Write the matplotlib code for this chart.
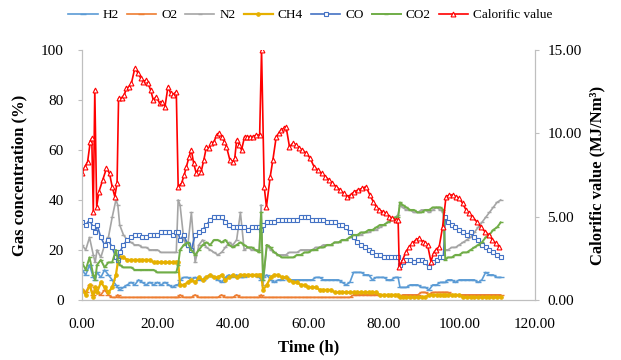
import matplotlib
matplotlib.use("Agg")
import matplotlib.pyplot as plt

plt.rcParams['font.family'] = ['Liberation Serif', 'DejaVu Serif']

# shared time axis for gas composition (h)
hours = [0, 1, 2, 3, 3.5, 4, 5, 6, 7, 8,
         9, 9.5, 10, 11, 12, 13, 14, 15, 16, 17,
         18, 19, 20, 21, 22, 23, 24, 25, 25.5, 26,
         27, 28, 29, 30, 31, 32, 33, 34, 35, 36,
         37, 38, 39, 40, 41, 42, 43, 44, 45, 46,
         47, 47.5, 48, 49, 50, 51, 52, 53, 54, 55,
         56, 57, 58, 59, 60, 61, 62, 63, 64, 65,
         66, 67, 68, 69, 70, 71, 72, 73, 74, 75,
         76, 77, 78, 79, 80, 81, 82, 83, 83.8, 84.3,
         85, 86, 87, 88, 89, 90, 91, 92, 93, 94,
         95, 95.8, 96.3, 97, 98, 99, 100, 101, 102, 103,
         104, 105, 106, 107, 108, 109, 110, 111]

h2 = [12, 10, 14, 9, 8, 11, 9, 12, 10, 8,
      6, 5, 4, 5, 6, 7, 6, 8, 7, 6,
      7, 6, 7, 6, 7, 6, 5, 6, 6, 8,
      9, 9, 8, 9, 8, 8, 9, 10, 9, 8,
      7, 9, 10, 9, 10, 9, 9, 10, 10, 10,
      9, 8, 9, 10, 8, 7, 8, 8, 9, 8,
      8, 8, 8, 8, 8, 8, 9, 9, 8, 8,
      8, 8, 8, 7, 6, 7, 11, 11, 11, 10,
      10, 8, 9, 9, 9, 8, 8, 9, 9, 5,
      5, 5, 6, 6, 6, 5, 5, 4, 6, 6,
      7, 7, 7, 8, 8, 7, 8, 8, 8, 8,
      8, 7, 8, 11, 10, 10, 9, 9]

o2 = [4, 3, 6, 2, 5, 3, 2, 4, 2, 1,
      1, 2, 1, 1, 1, 1, 1, 1, 1, 1,
      1, 1, 1, 1, 1, 1, 1, 1, 1, 2,
      1, 1, 1, 2, 1, 1, 1, 1, 1, 1,
      2, 1, 1, 1, 2, 1, 1, 1, 1, 1,
      1, 2, 1, 1, 1, 1, 1, 1, 1, 1,
      1, 1, 1, 1, 1, 1, 1, 1, 1, 1,
      1, 1, 1, 1, 1, 1, 2, 2, 2, 2,
      2, 2, 2, 2, 2, 2, 2, 2, 2, 1,
      2, 2, 2, 2, 2, 3, 3, 2, 3, 3,
      3, 3, 3, 3, 2, 2, 2, 2, 2, 2,
      2, 2, 2, 2, 2, 2, 2, 2]

n2 = [22, 20, 25, 18, 15, 20, 17, 22, 25, 33,
      40, 38, 30, 26, 24, 23, 22, 22, 21, 21,
      20, 20, 20, 19, 19, 19, 19, 19, 40, 38,
      24, 21, 35, 15, 22, 24, 21, 20, 19, 18,
      19, 21, 23, 22, 24, 35, 20, 21, 20, 20,
      20, 38, 6, 22, 20, 19, 18, 18, 18, 19,
      19, 19, 20, 20, 20, 20, 21, 21, 22, 22,
      22, 23, 23, 24, 24, 25, 25, 26, 26, 27,
      27, 28, 28, 29, 30, 31, 32, 33, 34, 38,
      37, 36, 36, 35, 35, 36, 36, 35, 36, 37,
      36, 35, 20, 20, 21, 21, 22, 23, 24, 25,
      27, 29, 31, 33, 35, 37, 39, 40]

ch4 = [4, 2, 6, 1, 5, 3, 7, 5, 3, 5,
       10, 15, 17, 17, 16, 16, 16, 16, 16, 16,
       16, 15, 15, 15, 15, 15, 15, 15, 15, 6,
       6, 7, 8, 7, 9, 8, 9, 10, 9, 9,
       10, 8, 9, 10, 9, 10, 10, 10, 10, 10,
       10, 10, 4, 6, 9, 10, 10, 9, 9, 8,
       7, 7, 6, 6, 5, 5, 5, 4, 4, 4,
       4, 3, 3, 3, 3, 3, 3, 3, 3, 3,
       3, 3, 3, 2, 2, 2, 2, 2, 2, 1,
       1, 1, 1, 1, 1, 1, 1, 2, 2, 2,
       2, 2, 2, 2, 2, 2, 2, 1, 1, 1,
       1, 1, 1, 1, 1, 1, 1, 1]

co = [31, 30, 32, 29, 27, 30, 25, 22, 24, 21,
      17, 16, 19, 22, 24, 25, 26, 26, 25, 25,
      26, 26, 26, 27, 27, 27, 26, 27, 27, 24,
      26, 22, 20, 26, 27, 28, 30, 32, 33, 33,
      33, 31, 30, 29, 29, 29, 29, 28, 29, 29,
      29, 28, 30, 31, 31, 31, 32, 32, 32, 32,
      32, 32, 33, 33, 33, 32, 32, 32, 32, 31,
      31, 31, 30, 30, 29, 27, 25, 23, 22, 21,
      20, 19, 18, 18, 17, 17, 17, 17, 17, 14,
      15, 16, 16, 15, 16, 16, 15, 13, 15, 16,
      17, 17, 33, 31, 30, 29, 28, 27, 26, 27,
      25, 24, 22, 21, 20, 19, 18, 17]

co2 = [15, 12, 17, 10, 8, 14, 16, 13, 15, 15,
       20, 16, 14, 13, 13, 13, 12, 12, 12, 12,
       12, 12, 11, 11, 11, 11, 11, 11, 14, 20,
       22, 23, 20, 18, 20, 22, 23, 22, 24, 24,
       23, 24, 22, 21, 22, 23, 22, 21, 21, 20,
       19, 35, 8, 22, 21, 19, 18, 17, 17, 17,
       17, 18, 18, 19, 19, 20, 20, 21, 21, 22,
       22, 23, 23, 24, 24, 25, 26, 26, 27, 27,
       28, 28, 29, 30, 30, 31, 32, 33, 33, 39,
       38, 37, 36, 36, 35, 35, 36, 36, 37, 37,
       37, 36, 16, 17, 17, 18, 18, 19, 19, 20,
       21, 22, 23, 25, 26, 28, 29, 31]

# calorific value has its own sampling times
cv_hours = [0, 0.8, 1.5, 2.2, 2.6, 3.0, 3.4, 3.9, 4.5, 5.5,
            6.5, 7.3, 8.0, 8.7, 9.3, 9.7, 10.5, 11.2, 11.8, 12.5,
            13.1, 14.0, 14.9, 15.6, 16.2, 17.0, 17.5, 18.2, 18.9, 19.7,
            20.6, 21.3, 22.0, 22.8, 23.5, 24.1, 25.0, 25.5, 26.4, 27.1,
            27.7, 28.4, 29.0, 29.6, 30.3, 31.0, 31.6, 32.3, 33.0, 33.7,
            34.3, 35.0, 35.7, 36.4, 37.0, 37.7, 38.3, 39.2, 40.0, 40.5,
            41.0, 41.7, 42.3, 43.1, 43.8, 44.5, 45.3, 46.2, 47.1, 47.6,
            48.3, 48.9, 49.9, 50.6, 51.5, 52.2, 52.8, 53.5, 54.1, 55.0,
            55.9, 56.8, 57.6, 58.4, 59.5, 60.5, 61.5, 62.5, 63.5, 64.5,
            65.5, 66.4, 67.4, 68.4, 69.4, 70.3, 71.2, 72.2, 73.2, 74.3,
            75.3, 76.3, 77.2, 78.0, 78.8, 79.7, 80.6, 81.5, 82.3, 83.2,
            83.8, 84.1, 85.0, 85.9, 86.8, 87.6, 88.5, 89.4, 90.3, 91.0,
            91.6, 92.5, 93.2, 93.8, 94.7, 95.6, 96.5, 97.4, 98.3, 99.1,
            100.0, 100.9, 101.8, 102.6, 103.5, 104.6, 105.7, 106.8, 107.9, 108.8,
            109.7, 110.5]
calorific = [7.6, 8.0, 8.3, 9.5, 9.7, 5.3, 12.6, 5.6, 6.5, 7.2,
             7.9, 7.6, 6.8, 6.2, 7.0, 12.1, 12.1, 12.3, 12.7, 12.8,
             13.0, 13.9, 13.6, 13.3, 13.1, 13.2, 13.0, 12.6, 12.0, 12.2,
             11.8, 11.9, 11.6, 12.8, 12.4, 12.3, 12.5, 6.8, 7.0, 7.5,
             8.0, 8.6, 9.0, 8.2, 7.6, 7.9, 7.7, 8.4, 9.2, 9.1,
             9.4, 9.5, 9.9, 10.0, 9.8, 9.5, 9.2, 8.4, 8.3, 8.5,
             9.6, 9.3, 9.0, 9.8, 9.8, 9.8, 9.8, 9.9, 9.9, 15.0,
             6.8, 5.6, 7.4, 8.4, 9.8, 10.0, 10.2, 10.3, 10.4, 9.2,
             9.4, 9.3, 9.1, 9.0, 8.8, 8.5, 8.0, 7.8, 7.6, 7.4,
             7.2, 7.0, 6.8, 6.6, 6.4, 6.2, 6.3, 6.5, 6.6, 6.7,
             6.8, 6.3, 5.9, 5.6, 5.4, 5.3, 5.2, 5.0, 4.9, 4.8,
             4.8, 2.0, 2.4, 2.9, 3.2, 3.4, 3.6, 3.7, 3.5, 3.4,
             3.3, 2.3, 2.8, 3.0, 3.2, 4.4, 6.2, 6.3, 6.3, 6.2,
             6.1, 5.8, 5.4, 5.2, 5.0, 4.7, 4.4, 4.1, 3.9, 3.6,
             3.4, 3.2]

x_ticks = [0, 20, 40, 60, 80, 100, 120]
left_ticks = [0, 20, 40, 60, 80, 100]
right_ticks = [0, 5, 10, 15]

fig = plt.figure(figsize=(6.21, 3.6), dpi=100)
ax = fig.add_axes([0.132, 0.167, 0.729, 0.694])

ax.plot(hours, h2, color='#5B9BD5', lw=1.2, marker='_', ms=4, mew=1, label='H2')
ax.plot(hours, o2, color='#ED7D31', lw=1.2, marker='_', ms=4, mew=1, label='O2')
ax.plot(hours, n2, color='#A5A5A5', lw=1.2, marker='_', ms=3, mew=1, label='N2')
ax.plot(hours, ch4, color='#E6B000', lw=1.6, marker='o', ms=2.5, mew=0.8, label='CH4')
ax.plot(hours, co, color='#4472C4', lw=1.2, marker='s', ms=3.5, mew=0.8, mfc='white', label='CO')
ax.plot(hours, co2, color='#70AD47', lw=1.4, marker='_', ms=3, mew=1, label='CO2')

ax.set_xlim(0, 120)
ax.set_ylim(0, 100)
ax.set_xticks(x_ticks)
ax.set_xticklabels([f"{v:.2f}" for v in x_ticks])
ax.set_yticks(left_ticks)

ax2 = ax.twinx()
ax2.plot(cv_hours, calorific, color='#FF0000', lw=1.2, marker='^', ms=3.5, mew=0.8,
         mfc='white', label='Calorific value')
ax2.set_ylim(0, 15)
ax2.set_yticks(right_ticks)
ax2.set_yticklabels([f"{v:.2f}" for v in right_ticks])

for a in (ax, ax2):
    for s in a.spines.values():
        s.set_color('#BFBFBF')
    a.spines['top'].set_visible(False)
    a.tick_params(length=0, labelsize=11)
ax.tick_params(axis='x', pad=13)
ax.tick_params(axis='y', length=3, color='#BFBFBF', pad=10)
ax2.tick_params(axis='y', length=3, color='#BFBFBF', pad=6)

ax.set_xlabel('Time (h)', fontsize=12, fontweight='bold', labelpad=6)
ax.set_ylabel('Gas concentration (%)', fontsize=12, fontweight='bold', labelpad=10)
ax2.set_ylabel('Calorific value (MJ/Nm³)', fontsize=12, fontweight='bold', labelpad=6)

lines = ax.get_lines() + ax2.get_lines()
fig.legend(lines, [l.get_label() for l in lines], loc='center', bbox_to_anchor=(0.5, 0.958),
           ncol=7, frameon=False, fontsize=9.5, handlelength=2.2, columnspacing=0.6,
           handletextpad=0.4)

fig.savefig('out.png', dpi=100)
